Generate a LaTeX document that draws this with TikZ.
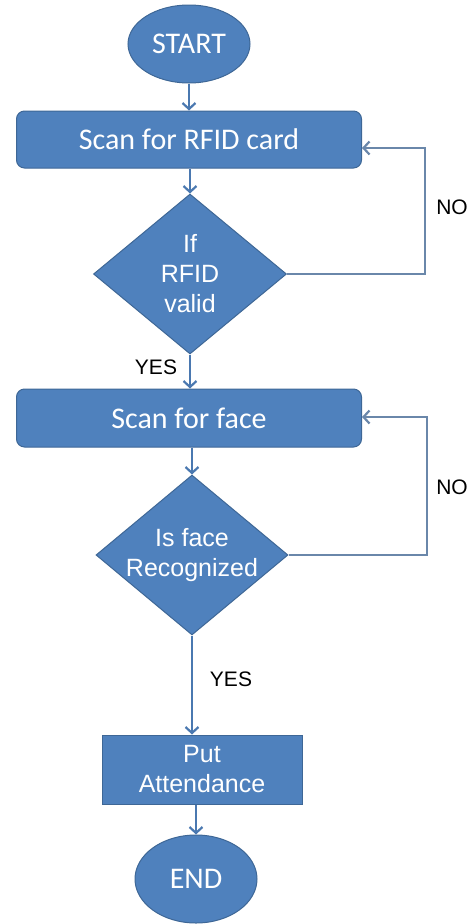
\documentclass[tikz,border=0pt]{standalone}
\usepackage{fontspec}
\setmainfont{Liberation Sans}
\newfontfamily\calib{Carlito}
\usetikzlibrary{shapes.geometric,arrows.meta}
\definecolor{boxfill}{HTML}{4F81BD}
\definecolor{boxline}{HTML}{3E6796}
\definecolor{arrblue}{HTML}{4A78B0}
\definecolor{loopcol}{HTML}{6A87AA}
\tikzset{
  base/.style={fill=boxfill, draw=boxline, line width=1pt, text=white, align=center, inner sep=0pt},
  terminal/.style={base, ellipse, font=\calib\fontsize{30}{36}\selectfont},
  procbox/.style={base, rounded corners=8pt, font=\calib\fontsize{30}{36}\selectfont},
  plainbox/.style={base, font=\fontsize{25}{30}\selectfont},
  decision/.style={base, diamond, font=\fontsize{25}{30}\selectfont},
  flowarr/.style={draw=arrblue, line width=2.7pt, -{Straight Barb[length=6pt,width=13pt,line width=2.2pt]}},
  looparr/.style={draw=loopcol, line width=2.7pt, -{Straight Barb[length=6pt,width=13pt,line width=2.2pt]}},
  lbl/.style={font=\fontsize{21}{25}\selectfont, text=black, inner sep=0pt}
}
\begin{document}
\begin{tikzpicture}[x=1pt,y=-1pt]
\useasboundingbox (0,0) rectangle (472,924);
\node[terminal, minimum width=122pt, minimum height=78pt] (start) at (189,44) {START};
\node[procbox, minimum width=345pt, minimum height=57pt] (scan1) at (189,139.5) {Scan for RFID card};
\node[decision, minimum width=193pt, minimum height=160pt] (dec1) at (190,274) {\makebox[60pt]{If}\\RFID\\valid};
\node[procbox, minimum width=345pt, minimum height=58pt] (scan2) at (189,418) {Scan for face};
\node[decision, minimum width=192pt, minimum height=160pt] (dec2) at (192,555) {Is face\\\makebox[100pt]{Recognized}};
\node[plainbox, minimum width=200pt, minimum height=69pt] (put) at (202,769.5) {Put\\Attendance};
\node[terminal, minimum width=122pt, minimum height=88pt] (end) at (196,879) {END};

\coordinate (c1) at (425,148);
\coordinate (c2) at (427,417);

\draw[flowarr] (start.south) -- (start.south |- scan1.north);
\draw[flowarr] (scan1.south -| dec1.north) -- (dec1.north);
\draw[flowarr] (dec1.south) -- (dec1.south |- scan2.north);
\draw[flowarr] (scan2.south -| dec2.north) -- (dec2.north);
\draw[flowarr] (dec2.south) -- (dec2.south |- put.north);
\draw[flowarr] (put.south -| end.north) -- (end.north);

\draw[looparr] (dec1.east) -| (c1) -- (scan1.east |- c1);
\draw[looparr] (dec2.east) -| (c2) -- (scan2.east |- c2);

\node[lbl] (no1) at (452,207) {NO};
\node[lbl] (no2) at (452,487) {NO};
\node[lbl] (yes1) at (156,367) {YES};
\node[lbl] (yes2) at (231,679) {YES};
\end{tikzpicture}
\end{document}
